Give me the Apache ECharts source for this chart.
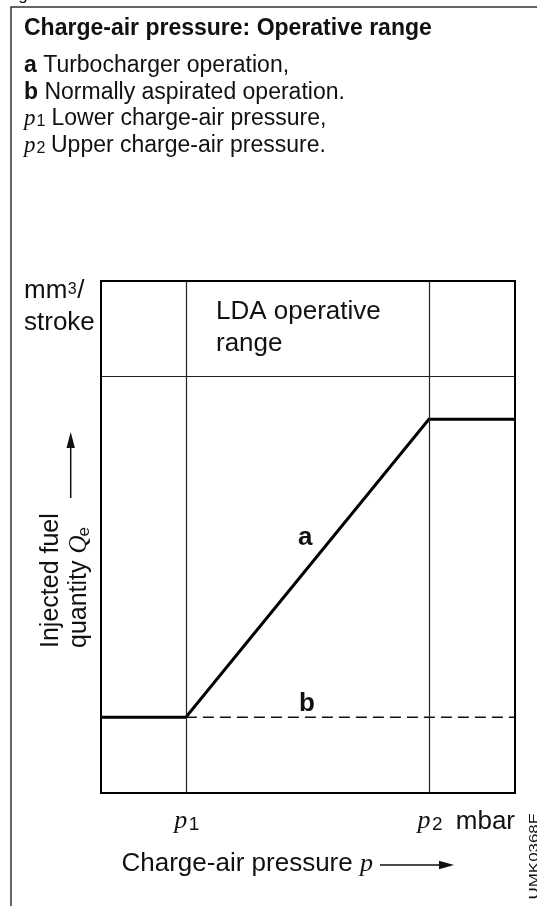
<!DOCTYPE html>
<html>
<head>
<meta charset="utf-8">
<script src="https://cdn.jsdelivr.net/npm/echarts@6/dist/echarts.min.js"></script>
<style>
  html, body { margin: 0; padding: 0; background: #fff; }
  #chart { width: 537px; height: 906px; }
</style>
</head>
<body>
<div id="chart"></div>
<script>
// Charge-air pressure, relative units across the plotted range (0..100)
const pressure = [0, 20.5, 79.2, 100];
// Injected fuel quantity with turbocharger operation (relative units)
const fuelTurbo = [14.8, 14.8, 73.0, 73.0];
// Normally aspirated operation: quantity stays at the base level from p1 on
const pressureNA = [20.5, 100];
const fuelNA = [14.8, 14.8];
// Lower (p1) and upper (p2) charge-air pressure limits and their subscripts
const pressureLimits = [20.5, 79.2];
const limitSubscripts = ['1', '2'];
// Lower edge of the "LDA operative range" header band
const bandEdge = [81.4];

const SANS = '"Liberation Sans", Arial, Helvetica, sans-serif';
const SERIF = '"Liberation Serif", "Times New Roman", serif';
const INK = '#111';

const measureCtx = document.createElement('canvas').getContext('2d');
function textWidth(str, size, opts = {}) {
  measureCtx.font = `${opts.style || 'normal'} ${opts.weight || 'normal'} ${size}px ${opts.font || SANS}`;
  return measureCtx.measureText(str).width;
}

// Text element positioned by its alphabetic baseline
function label(x, baseline, str, size, opts = {}) {
  return {
    type: 'text',
    x: x,
    y: baseline - 0.35 * size,
    scaleX: opts.scaleX || 1,
    silent: true,
    style: {
      text: str,
      fontFamily: opts.font || SANS,
      fontSize: size,
      fontWeight: opts.weight || 'normal',
      fontStyle: opts.style || 'normal',
      fill: opts.fill || INK,
      align: opts.align || 'left',
      textAlign: opts.align || 'left',
      verticalAlign: 'middle',
      textVerticalAlign: 'middle'
    }
  };
}

function arrow(x1, y1, x2, y2, head, half) {
  const dx = x2 - x1, dy = y2 - y1;
  const len = Math.hypot(dx, dy);
  const ux = dx / len, uy = dy / len;
  const bx = x2 - ux * head, by = y2 - uy * head;
  return [
    { type: 'line', silent: true,
      shape: { x1: x1, y1: y1, x2: bx, y2: by },
      style: { stroke: INK, lineWidth: 1.5 } },
    { type: 'polygon', silent: true,
      shape: { points: [[x2, y2], [bx - uy * half, by + ux * half], [bx + uy * half, by - ux * half]] },
      style: { fill: INK } }
  ];
}

const chart = echarts.init(document.getElementById('chart'), null, { renderer: 'canvas' });

const hiddenAxis = {
  type: 'value', min: 0, max: 100,
  axisLine: { show: false }, axisTick: { show: false },
  axisLabel: { show: false }, splitLine: { show: false }
};

chart.setOption({
  animation: false,
  grid: {
    left: 101, top: 281, width: 414, height: 512,
    show: true, borderColor: '#000', borderWidth: 2, backgroundColor: 'transparent'
  },
  xAxis: hiddenAxis,
  yAxis: hiddenAxis,
  series: [
    {
      name: 'Normally aspirated operation',
      type: 'line',
      data: pressureNA.map((p, i) => [p, fuelNA[i]]),
      symbol: 'none',
      z: 3,
      lineStyle: { color: '#111', width: 1.4, type: [11, 6] },
      markLine: {
        silent: true,
        symbol: 'none',
        label: { show: false },
        lineStyle: { color: '#222', width: 1.2, type: 'solid' },
        data: [
          ...pressureLimits.map(v => ({ xAxis: v })),
          ...bandEdge.map(v => ({ yAxis: v }))
        ]
      }
    },
    {
      name: 'Turbocharger operation',
      type: 'line',
      data: pressure.map((p, i) => [p, fuelTurbo[i]]),
      symbol: 'none',
      z: 4,
      lineStyle: { color: '#000', width: 3, cap: 'butt', join: 'miter' }
    }
  ]
});

// Texts and annotations
const g = [];

// Outer figure frame
g.push({ type: 'rect', silent: true, shape: { x: 11, y: 7, width: 600, height: 1000 },
         style: { fill: 'none', stroke: '#333', lineWidth: 1.5 } });
g.push(label(4, 1, 'Fig.', 17));

// Heading and key
g.push(label(24, 36.7, 'Charge-air pressure: Operative range', 23, { weight: 'bold' }));
g.push(label(24, 73.3, 'a', 23, { weight: 'bold' }));
g.push(label(24 + textWidth('a', 23, { weight: 'bold' }) + textWidth(' ', 23), 73.3, 'Turbocharger operation,', 23));
g.push(label(24, 100.5, 'b', 23, { weight: 'bold' }));
g.push(label(24 + textWidth('b', 23, { weight: 'bold' }) + textWidth(' ', 23), 100.5, 'Normally aspirated operation.', 23));
g.push(label(24, 127, 'p', 23, { font: SERIF, style: 'italic' }));
g.push(label(36.5, 127.5, limitSubscripts[0], 16));
g.push(label(51.5, 127, 'Lower charge-air pressure,', 23));
g.push(label(24, 154, 'p', 23, { font: SERIF, style: 'italic' }));
g.push(label(36.5, 154.5, limitSubscripts[1], 16));
g.push(label(51, 154, 'Upper charge-air pressure.', 23));

// Unit of the quantity axis
const mmW = textWidth('mm', 26);
g.push(label(24, 300, 'mm', 26));
g.push(label(24 + mmW + 0.5, 295.5, '3', 16));
g.push(label(24 + mmW + textWidth('3', 16) + 1, 300, '/', 26));
g.push(label(24, 331.7, 'stroke', 26));

// Band caption
g.push(label(216, 321, 'LDA operative', 26));
g.push(label(216, 353, 'range', 26));

// Curve identifiers
g.push(label(298, 547, 'a', 26, { weight: 'bold' }));
g.push(label(299, 713, 'b', 26, { weight: 'bold' }));

// p1 / p2 labels beneath their limit lines
const axisY = chart.convertToPixel({ gridIndex: 0 }, [0, 0])[1];
pressureLimits.forEach((v, i) => {
  const px = chart.convertToPixel({ gridIndex: 0 }, [v, 0])[0];
  g.push(label(px - 11.5, axisY + 37.6, 'p', 26, { font: SERIF, style: 'italic' }));
  g.push(label(px + 3, axisY + 38, limitSubscripts[i], 19));
});
const rightX = chart.convertToPixel({ gridIndex: 0 }, [100, 0])[0];
g.push(label(rightX, axisY + 37.6, 'mbar', 26, { align: 'right' }));

// Pressure axis title with arrow
const capW = textWidth('Charge-air pressure ', 26);
g.push(label(121.5, 873, 'Charge-air pressure ', 26));
g.push(label(121.5 + capW, 873, 'p', 26, { font: SERIF, style: 'italic' }));
g.push(...arrow(380, 865, 454, 865, 15, 4.2));

// Quantity axis title (rotated, reads bottom to top)
const qW = textWidth('quantity ', 25);
const QW = textWidth('Q', 25, { font: SERIF, style: 'italic' });
g.push({
  type: 'group', x: 88, y: 648, rotation: Math.PI / 2, silent: true,
  children: [
    label(0, -28, 'Injected fuel', 25),
    label(0, 0, 'quantity ', 25),
    label(qW, 0, 'Q', 25, { font: SERIF, style: 'italic' }),
    label(qW + QW - 1, 2, 'e', 17)
  ]
});
g.push(...arrow(70.7, 498, 70.7, 432, 16, 4.2));

// Drawing reference code along the right edge
g.push({
  type: 'group', x: 537, y: 813, rotation: Math.PI / 2, silent: true,
  children: [label(0, 1.5, 'UMK0368E', 13, { align: 'right', scaleX: 1.3 })]
});

chart.setOption({ graphic: { elements: g } });
</script>
</body>
</html>
